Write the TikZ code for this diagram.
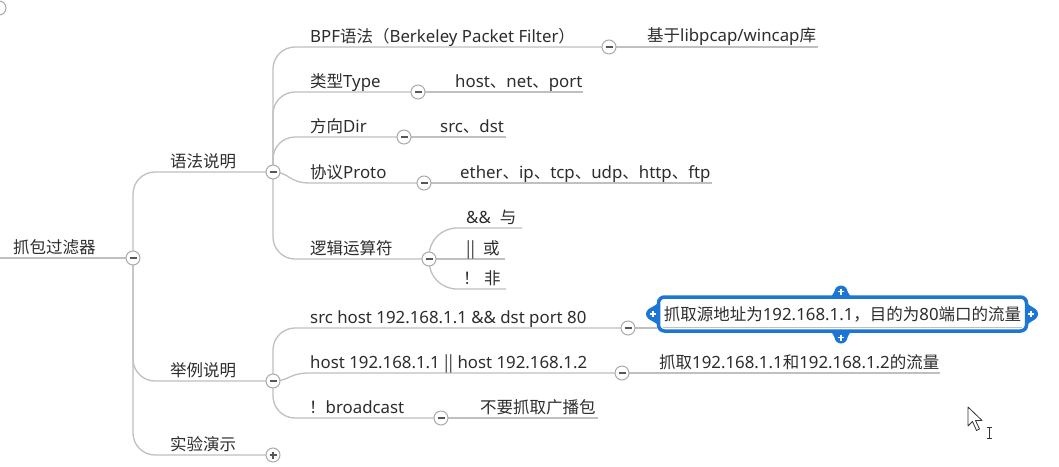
\documentclass[tikz,border=0pt]{standalone}
\usepackage{fontspec}
\setmainfont{Noto Sans}[Scale=1.02]
\newfontfamily\zhfont{Noto Sans CJK SC}
\newcommand{\zh}[1]{{\zhfont #1}}
\definecolor{linegray}{RGB}{192,192,192}
\definecolor{ringgray}{RGB}{170,170,170}
\definecolor{txtgray}{RGB}{45,45,45}
\definecolor{selblue}{RGB}{28,118,214}
\tikzset{
  conn/.style={draw=linegray, line width=1.3pt},
  tog/.style={circle, draw=ringgray, fill=white, line width=1pt, minimum size=14pt, inner sep=0pt},
  togminus/.style={tog, path picture={\draw[line width=1.4pt, txtgray!80]
     ([xshift=-3.5pt]path picture bounding box.center) -- ([xshift=3.5pt]path picture bounding box.center);}},
  togplus/.style={tog, path picture={\draw[line width=1.4pt, txtgray!80]
     ([xshift=-3.5pt]path picture bounding box.center) -- ([xshift=3.5pt]path picture bounding box.center)
     ([yshift=-3.5pt]path picture bounding box.center) -- ([yshift=3.5pt]path picture bounding box.center);}},
  lbl/.style={anchor=base west, inner sep=0pt, text=txtgray, font=\fontsize{16.5}{20}\selectfont},
  selbox/.style={draw=selblue, line width=3.5pt, rounded corners=6pt, fill=white,
     minimum width=368pt, minimum height=34pt, inner sep=0pt, text=txtgray, font=\fontsize{16.5}{20}\selectfont},
  tabfill/.style={fill=selblue},
  tabplus/.style={draw=white, line width=1.5pt}
}
\begin{document}
\begin{tikzpicture}[x=1pt, y=-1pt]
\useasboundingbox (0,0) rectangle (1059,466);
\fill[white] (0,0) rectangle (1059,466);
% partial circle artifact at top-left
\draw[ringgray, line width=1pt] (-1,8) circle (7);

% ---------- toggle positions ----------
\coordinate (c0) at (133,258);
\coordinate (c1) at (273,172);
\coordinate (c2) at (273,381);
\coordinate (c3) at (273,455);
\coordinate (c11) at (609,47);
\coordinate (c12) at (418,92);
\coordinate (c13) at (404,137);
\coordinate (c14) at (424,183);
\coordinate (c15) at (429,259);
\coordinate (c21) at (628,328);
\coordinate (c22) at (622,373);
\coordinate (c23) at (441,418);
% leaf line ends
\coordinate (e11) at (818,47);
\coordinate (e12) at (583,92);
\coordinate (e13) at (506,137);
\coordinate (e14) at (712,183);
\coordinate (e151) at (522,228);
\coordinate (e152) at (505,259);
\coordinate (e153) at (506,289);
\coordinate (e21) at (657,328);
\coordinate (e22) at (940,373);
\coordinate (e23) at (598,418);
\coordinate (rootstart) at (0,258);

% ---------- connectors ----------
\draw[conn] (rootstart) -- (c0);
\draw[conn, rounded corners=22pt] (c0) |- (c1);
\draw[conn, rounded corners=22pt] (c0) |- (c2);
\draw[conn, rounded corners=22pt] (c0) |- (c3);

\draw[conn, rounded corners=22pt] (c1) |- (c11);
\draw[conn, rounded corners=22pt] (c1) |- (c12);
\draw[conn, rounded corners=22pt] (c1) |- (c13);
\draw[conn] (c1) .. controls (290,172) and (288,183) .. (310,183) -- (c14);
\draw[conn, rounded corners=22pt] (c1) |- (c15);

\draw[conn] (c11) -- (e11);
\draw[conn] (c12) -- (e12);
\draw[conn] (c13) -- (e13);
\draw[conn] (c14) -- (e14);
\draw[conn, rounded corners=28pt] (c15) |- (e151);
\draw[conn] (c15) -- (e152);
\draw[conn, rounded corners=28pt] (c15) |- (e153);

\draw[conn, rounded corners=22pt] (c2) |- (c21);
\draw[conn] (c2) .. controls (290,381) and (288,373) .. (310,373) -- (c22);
\draw[conn, rounded corners=22pt] (c2) |- (c23);
\draw[conn] (c21) -- (e21);
\draw[conn] (c22) -- (e22);
\draw[conn] (c23) -- (e23);

% ---------- labels ----------
\node[lbl] (root) at (13,253) {\zh{抓包过滤器}};
\node[lbl] (n1) at (170,167) {\zh{语法说明}};
\node[lbl] (n2) at (170,376) {\zh{举例说明}};
\node[lbl] (n3) at (170,450) {\zh{实验演示}};

\node[lbl] (n11) at (310,42) {BPF\zh{语法（}Berkeley Packet Filter\zh{）}};
\node[lbl] (n12) at (310,87) {\zh{类型}Type};
\node[lbl] (n13) at (310,132) {\zh{方向}Dir};
\node[lbl] (n14) at (310,178) {\zh{协议}Proto};
\node[lbl] (n15) at (310,254) {\zh{逻辑运算符}};

\node[lbl] (l11) at (647,41) {\zh{基于}libpcap/wincap\zh{库}};
\node[lbl] (l12) at (455,87) {host\zh{、}net\zh{、}port};
\node[lbl] (l13) at (440,132) {src\zh{、}dst};
\node[lbl] (l14) at (460,178) {ether\zh{、}ip\zh{、}tcp\zh{、}udp\zh{、}http\zh{、}ftp};
\node[lbl] (l151) at (466,223) {\&\&\hspace{9pt}\zh{与}};
\node[lbl] (l152) at (466,254) {\zh{||}\hspace{8pt}\zh{或}};
\node[lbl] (l153) at (463,284) {\zh{！} \zh{非}};

\node[lbl] (n21) at (310,323) {src host 192.168.1.1 \&\& dst port 80};
\node[lbl] (n22) at (310,368) {host 192.168.1.1 \zh{||} host 192.168.1.2};
\node[lbl] (n23) at (309,413) {\zh{！}broadcast};

\node[lbl] (l22) at (659,368) {\zh{抓取}192.168.1.1\zh{和}192.168.1.2\zh{的流量}};
\node[lbl] (l23) at (480,413) {\zh{不要抓取广播包}};

% ---------- selected node ----------
% tabs
\fill[tabfill] (826,299) .. controls (834,299) and (834,286) .. (841,286)
   .. controls (848,286) and (848,299) .. (856,299) -- cycle;
\fill[tabfill] (841,292) circle (6.5);
\fill[tabfill] (826,329) .. controls (834,329) and (834,343) .. (841,343)
   .. controls (848,343) and (848,329) .. (856,329) -- cycle;
\fill[tabfill] (841,337) circle (6.5);
\fill[tabfill] (660,299) .. controls (660,306) and (646,307) .. (646,314)
   .. controls (646,321) and (660,322) .. (660,329) -- cycle;
\fill[tabfill] (653,314) circle (6.5);
\fill[tabfill] (1025,299) .. controls (1025,306) and (1038,307) .. (1038,314)
   .. controls (1038,321) and (1025,322) .. (1025,329) -- cycle;
\fill[tabfill] (1031,314) circle (6.5);
\node[selbox] (l21) at (842.5,314) {\zh{抓取源地址为}192.168.1.1\zh{，目的为}80\zh{端口的流量}};
\draw[linegray, line width=1pt] (663,327.5) -- (1022,327.5);
\draw[tabplus] (838,291.5) -- (844,291.5) (841,288.5) -- (841,294.5);
\draw[tabplus] (838,337.5) -- (844,337.5) (841,334.5) -- (841,340.5);
\draw[tabplus] (650,314) -- (656,314) (653,311) -- (653,317);
\draw[tabplus] (1028,314) -- (1034,314) (1031,311) -- (1031,317);

% ---------- toggles ----------
\node[togminus] (t0) at (c0) {};
\node[togminus] (t1) at (c1) {};
\node[togminus] (t2) at (c2) {};
\node[togplus] (t3) at (c3) {};
\node[togminus] (t11) at (c11) {};
\node[togminus] (t12) at (c12) {};
\node[togminus] (t13) at (c13) {};
\node[togminus] (t14) at (c14) {};
\node[togminus] (t15) at (c15) {};
\node[togminus] (t21) at (c21) {};
\node[togminus] (t22) at (c22) {};
\node[togminus] (t23) at (c23) {};

% ---------- mouse cursor ----------
\draw[black!80, fill=white, line width=0.8pt, line join=round]
  (968,407) -- (968,426) -- (972.5,421.5) -- (976.5,430.5) -- (979.5,429) -- (975.5,420.5) -- (982,420.5) -- cycle;
\draw[black!80, line width=1pt] (989,427) -- (989,438) (986.5,427) -- (991.5,427) (986.5,438) -- (991.5,438);
\end{tikzpicture}
\end{document}
